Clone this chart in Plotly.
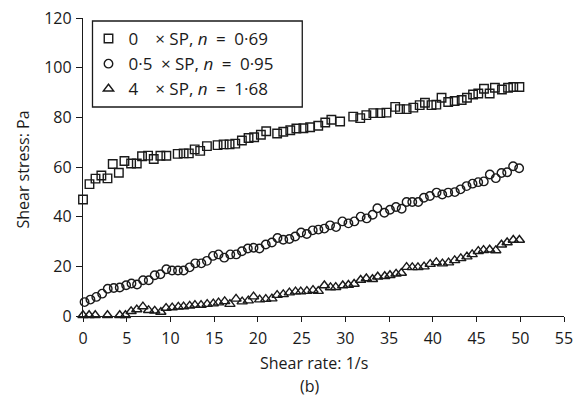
import plotly.graph_objects as go

# ---- data ----
sq_x = [0, 0.74, 1.43, 2.1, 2.8, 3.4, 4.1, 4.74, 5.5, 6.15, 6.75, 7.44, 8.09, 8.85, 9.53,
        10.83, 11.51, 12.1, 12.77, 13.4, 14.17,
        15.39, 16.08, 16.76, 17.41, 18.17, 18.93, 19.57, 20.34, 20.95,
        22.2, 22.9, 23.7, 24.4, 25.2, 25.97, 26.9, 27.7, 28.4, 29.4,
        30.9, 31.7, 32.4, 33.2, 34.0, 34.7,
        35.7, 36.24, 37.0, 37.77, 38.5, 39.1, 39.85,
        40.4, 41.0, 41.76, 42.5, 43.3, 43.9, 44.6,
        45.2, 45.85, 46.5, 47.1, 47.9, 48.6, 49.2, 49.9]
sq_y = [46.9, 53.1, 55.3, 56.6, 55.4, 61.2, 57.7, 62.4, 61.4, 61.4, 64.3, 64.6, 63.2, 64.5, 64.5,
        65.3, 65.5, 65.5, 67.1, 66.5, 68.4,
        68.8, 69.1, 69.1, 69.4, 70.7, 71.7, 72.0, 73.0, 74.4,
        73.5, 74.2, 74.8, 75.5, 75.6, 76.0, 76.6, 77.9, 79.0, 78.3,
        80.3, 79.7, 80.9, 81.7, 81.7, 81.9,
        84.2, 83.3, 83.3, 83.9, 84.9, 85.9, 84.9,
        85.1, 87.9, 86.2, 86.6, 87.0, 87.9, 89.2,
        89.6, 91.5, 89.6, 91.9, 91.2, 91.9, 92.2, 92.2]

ci_x = [0.18, 0.85, 1.52, 2.19, 2.83, 3.52, 4.2, 4.93, 5.54, 6.18, 6.87, 7.52, 8.2, 8.85, 9.53,
        10.18, 10.86, 11.51, 12.2, 12.84, 13.53, 14.17, 14.86, 15.5, 16.15, 16.84, 17.52, 18.17,
        18.85, 19.5, 20.18, 20.9, 21.6, 22.24, 22.9, 23.6, 24.26, 24.94, 25.59, 26.27, 26.92,
        27.6, 28.25, 28.94, 29.66, 30.35, 31.03, 31.75, 32.44, 33.12, 33.66, 34.46, 35.1, 35.79,
        36.44, 37.0, 37.65, 38.33, 38.98, 39.67, 40.43, 41.08, 41.76, 42.52, 43.17, 43.86, 44.54,
        45.19, 45.83, 46.52, 47.2, 47.85, 48.5, 49.18, 49.87]
ci_y = [5.6, 6.6, 7.7, 9.0, 11.0, 11.3, 11.5, 12.4, 13.1, 12.7, 14.4, 14.4, 16.4, 16.8, 18.8,
        18.3, 18.3, 18.3, 19.6, 21.2, 21.2, 22.2, 24.2, 24.8, 23.5, 24.8, 24.8, 26.1,
        27.2, 27.5, 27.2, 28.8, 29.6, 31.4, 30.7, 31.0, 32.0, 33.6, 33.0, 34.5, 34.8,
        35.2, 36.5, 35.8, 38.1, 37.3, 38.1, 40.0, 39.3, 40.8, 43.4, 41.6, 42.8, 43.9,
        43.2, 45.9, 45.9, 45.9, 47.6, 48.3, 49.7, 48.9, 49.7, 49.9, 51.0, 52.3, 53.3,
        53.9, 54.2, 57.0, 55.5, 57.6, 57.9, 60.3, 59.5]

tr_x = [0, 0.7, 1.4, 2.8, 4.2, 4.85, 5.5, 6.15, 6.85, 7.5, 8.2, 8.9, 9.5, 10.2, 10.9,
        11.5, 12.2, 12.8, 13.5, 14.2, 14.9, 15.5, 16.2, 16.8, 17.5, 18.2, 18.9, 19.5, 20.2, 20.9,
        21.6, 22.2, 22.9, 23.6, 24.3, 24.9, 25.6, 26.3, 26.9, 27.6, 28.3, 28.9, 29.7, 30.35, 31.0,
        31.75, 32.4, 33.1, 33.7, 34.5, 35.1, 35.8, 36.4, 37.0, 37.65, 38.3, 39.0, 39.7, 40.4, 41.1,
        41.8, 42.5, 43.2, 43.9, 44.5, 45.2, 45.8, 46.5, 47.2, 47.85, 48.5, 49.2, 49.9]
tr_y = [0.3, 0.3, 0.3, 0.3, 0.3, 0.3, 1.9, 2.6, 3.8, 2.3, 2.1, 1.6, 3.2, 3.4, 3.7,
        3.8, 4.1, 4.4, 4.4, 4.8, 5.0, 5.4, 5.9, 4.8, 6.9, 5.8, 6.2, 7.8, 6.6, 6.8,
        7.0, 8.4, 8.7, 9.4, 9.8, 9.8, 10.0, 10.4, 10.0, 12.3, 11.5, 11.6, 12.3, 12.5, 12.9,
        14.5, 15.1, 14.8, 15.8, 16.0, 16.4, 17.0, 17.3, 19.7, 19.6, 19.6, 19.9, 20.9, 21.6, 21.1,
        21.5, 22.4, 23.2, 23.9, 24.8, 26.1, 26.5, 26.7, 26.4, 28.7, 29.6, 30.6, 30.6]

names = ["0\u2003\u00d7 SP, <i>n</i>\u2002=\u20020\u00b769",
         "0\u00b75\u2002\u00d7 SP, <i>n</i>\u2002=\u20020\u00b795",
         "4\u2003\u00d7 SP, <i>n</i>\u2002=\u20021\u00b768"]

x_ticks = [0, 5, 10, 15, 20, 25, 30, 35, 40, 45, 50, 55]
y_ticks = [0, 20, 40, 60, 80, 100, 120]

FONT = "Open Sans, Noto Sans, sans-serif"
INK = "#1a1a1a"

fig = go.Figure()
series = [(sq_x, sq_y, "square-open", 8.5), (ci_x, ci_y, "circle-open", 8.5), (tr_x, tr_y, "triangle-up-open", 9)]
for (xs, ys, sym, sz), nm in zip(series, names):
    fig.add_trace(go.Scatter(x=xs, y=ys, mode="markers", name=nm, cliponaxis=False,
                             marker=dict(symbol=sym, size=sz, color=INK, line=dict(width=1.4, color=INK))))

axis_common = dict(showline=True, linecolor=INK, linewidth=1.3, ticks="outside", tickcolor=INK,
                   tickwidth=1.2, showgrid=False, zeroline=False, automargin=False,
                   ticklabeloverflow="allow",
                   tickfont=dict(family=FONT, size=16, color=INK))
fig.update_xaxes(range=[0, 55], tickvals=x_ticks, ticklen=5, ticklabelstandoff=3, **axis_common)
fig.update_yaxes(range=[0, 120], tickvals=y_ticks, ticklen=6, ticklabelstandoff=1, **axis_common)

# The page body adds an 8px offset; the figure is sized so the plot area lands on
# screen x 82.5..564, y 18..316.
OFF = 8
LEFT, RIGHT, TOP, BOT = 82.5, 564.0, 18.0, 316.0
W, H = 581 - OFF, 406 - OFF
PW, PH = RIGHT - LEFT, BOT - TOP
def fx(px):  # screen px -> plot-fraction x
    return (px - LEFT) / PW
def fy(py):  # screen px -> plot-fraction y
    return (BOT - py) / PH

fig.update_layout(
    width=W, height=H,
    margin=dict(l=LEFT - OFF, r=W - (RIGHT - OFF), t=TOP - OFF, b=H - (BOT - OFF), autoexpand=False),
    paper_bgcolor="white", plot_bgcolor="white",
    font=dict(family=FONT, size=16, color=INK),
    showlegend=True,
    legend=dict(x=fx(88), y=fy(21), xanchor="left", yanchor="top",
                borderwidth=0, bgcolor="rgba(0,0,0,0)",
                font=dict(family=FONT, size=17, color=INK)),
    shapes=[dict(type="rect", xref="paper", yref="paper",
                 x0=fx(92), x1=fx(302), y0=fy(107), y1=fy(21),
                 line=dict(color=INK, width=1.3), fillcolor="rgba(0,0,0,0)", layer="above")],
    annotations=[
        dict(text="Shear stress: Pa", xref="paper", yref="paper", x=fx(22), y=fy(170),
             textangle=-90, showarrow=False, xanchor="center", yanchor="middle",
             font=dict(family=FONT, size=16, color=INK)),
        dict(text="Shear rate: 1/s", xref="paper", yref="paper", x=fx(314), y=fy(363),
             showarrow=False, xanchor="center", yanchor="middle",
             font=dict(family=FONT, size=16, color=INK)),
        dict(text="(b)", xref="paper", yref="paper", x=fx(310), y=fy(386),
             showarrow=False, xanchor="center", yanchor="middle",
             font=dict(family=FONT, size=16, color=INK)),
    ],
)

fig.write_html("out.html")
